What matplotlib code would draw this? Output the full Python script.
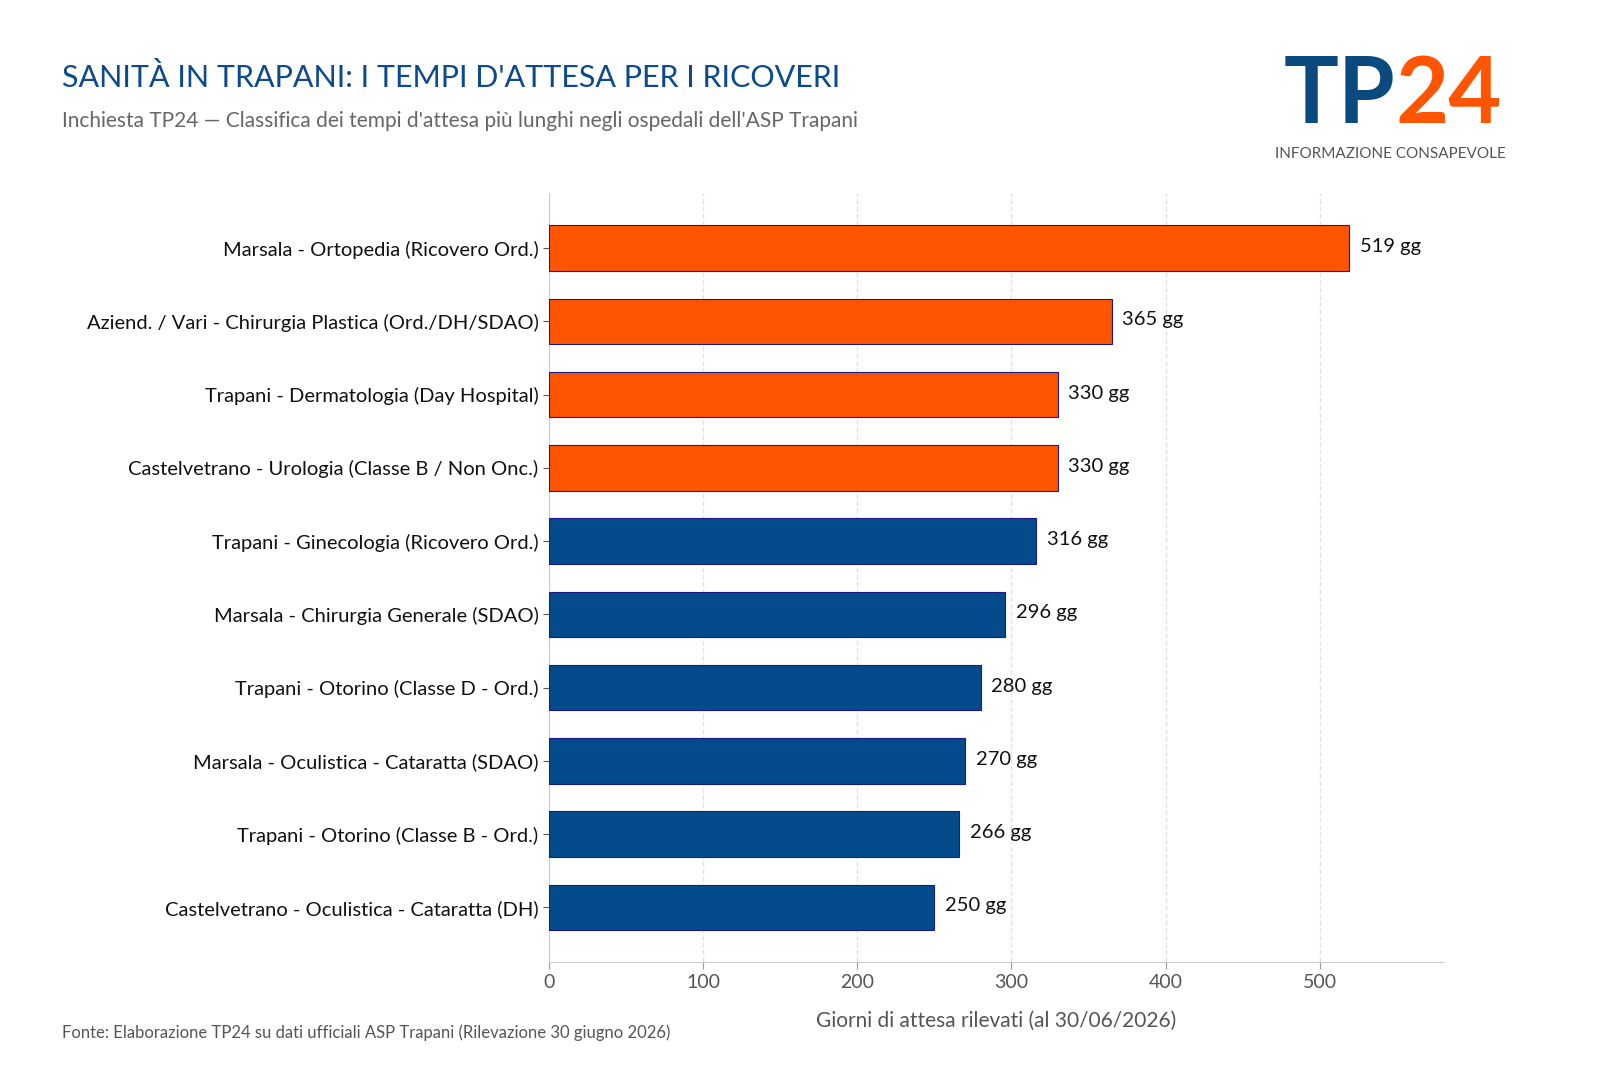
import matplotlib.pyplot as plt

labels = [
    "Marsala - Ortopedia (Ricovero Ord.)",
    "Aziend. / Vari - Chirurgia Plastica (Ord./DH/SDAO)",
    "Trapani - Dermatologia (Day Hospital)",
    "Castelvetrano - Urologia (Classe B / Non Onc.)",
    "Trapani - Ginecologia (Ricovero Ord.)",
    "Marsala - Chirurgia Generale (SDAO)",
    "Trapani - Otorino (Classe D - Ord.)",
    "Marsala - Oculistica - Cataratta (SDAO)",
    "Trapani - Otorino (Classe B - Ord.)",
    "Castelvetrano - Oculistica - Cataratta (DH)",
]
days = [519, 365, 330, 330, 316, 296, 280, 270, 266, 250]
n_top = 4

ORANGE = "#FF5500"
BLUE = "#034B8A"

plt.rcParams['font.family'] = ['Lato', 'DejaVu Sans']

fig = plt.figure(figsize=(16, 10.91), dpi=100)
ax = fig.add_axes([0.343, 0.118, 0.559, 0.705])

colors = [ORANGE if i < n_top else BLUE for i in range(len(days))]
y = list(range(len(days)))
ax.barh(y, days, height=0.62, color=colors, edgecolor="#1a1a8a", linewidth=0.8, zorder=3)
ax.set_yticks(y)
ax.set_yticklabels(labels, fontsize=14.5, color="#111111")
ax.set_xlim(0, 580)
ax.set_ylim(len(days) - 0.25, -0.75)
ax.set_xticks([0, 100, 200, 300, 400, 500])
ax.tick_params(axis='x', labelsize=14, colors="#555555", length=5, color="#999999")
ax.tick_params(axis='y', length=4, color="#555555")
ax.grid(axis='x', linestyle='--', color="#e3e3e3", linewidth=1, zorder=0)
for s in ['top', 'right']:
    ax.spines[s].set_visible(False)
ax.spines['left'].set_color("#cccccc")
ax.spines['bottom'].set_color("#cccccc")

for yi, v in zip(y, days):
    ax.text(v + 7, yi - 0.02, f"{v} gg", va='center', ha='left', fontsize=14.5, color="#111111")

ax.set_xlabel("Giorni di attesa rilevati (al 30/06/2026)", fontsize=15, color="#555555", labelpad=14)

fig.text(0.039, 0.92, "SANITÀ IN TRAPANI: I TEMPI D'ATTESA PER I RICOVERI",
         fontsize=22, color="#0B4A8E", va='baseline')
fig.text(0.039, 0.884, "Inchiesta TP24 — Classifica dei tempi d'attesa più lunghi negli ospedali dell'ASP Trapani",
         fontsize=15, color="#666666", va='baseline')
fig.text(0.039, 0.049, "Fonte: Elaborazione TP24 su dati ufficiali ASP Trapani (Rilevazione 30 giugno 2026)",
         fontsize=12, color="#555555", va='baseline')

# logo
fig.text(0.872, 0.887, "TP", fontsize=66, fontweight='bold', color="#0B4A7E", va='baseline', ha='right')
fig.text(0.872, 0.887, "24", fontsize=66, fontweight='bold', color=ORANGE, va='baseline', ha='left')
fig.text(0.941, 0.855, "INFORMAZIONE CONSAPEVOLE", fontsize=11, color="#555555",
         ha='right', va='baseline')

fig.savefig("out.png", dpi=100, facecolor="white")
